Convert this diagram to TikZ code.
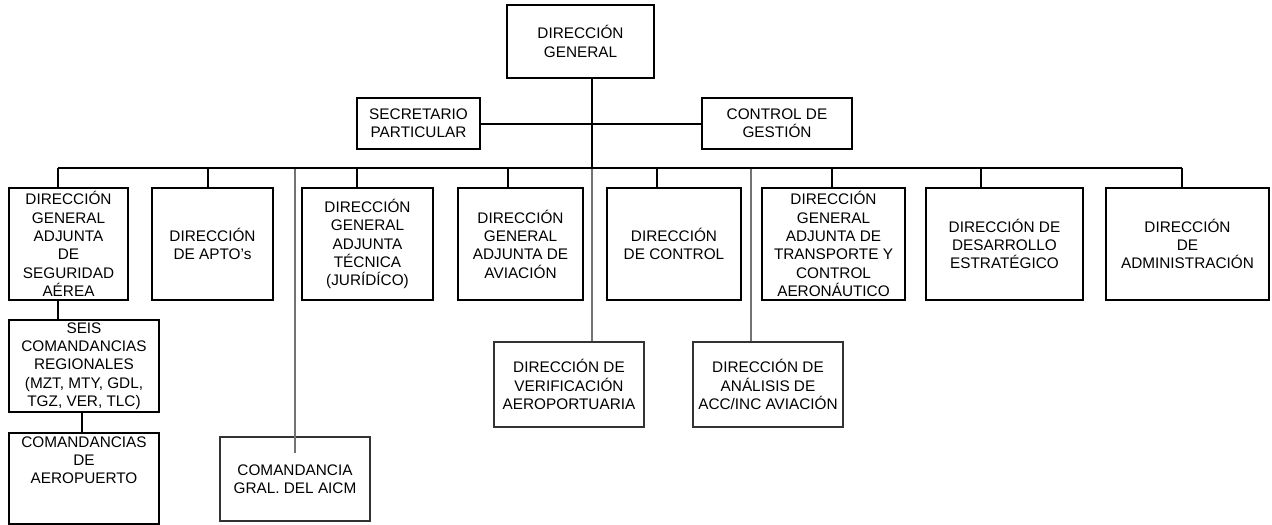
\documentclass[tikz,border=0pt]{standalone}
\usepackage{fontspec}
\setmainfont{Liberation Sans}
\begin{document}
\begin{tikzpicture}[x=0.75pt,y=-0.75pt,
  font=\fontsize{11.5}{13.75}\selectfont,
  mainbox/.style={draw=black,line width=1.5pt,inner sep=0pt,align=center,fill=white},
  thinbox/.style={draw=black!80,line width=0.8pt,inner sep=0pt,align=center,fill=white},
  link/.style={draw=black,line width=1.5pt},
  glink/.style={draw=black!55,line width=0.8pt}]
\useasboundingbox[fill=white] (0,0) rectangle (1272,525);

% coordinates for the connector junctions
\coordinate (spine) at (592,168);
\coordinate (d1) at (58,168);
\coordinate (d2) at (208,168);
\coordinate (d3) at (357,168);
\coordinate (d4) at (508,168);
\coordinate (d5) at (657,168);
\coordinate (d6) at (832,168);
\coordinate (d7) at (981,168);
\coordinate (d8) at (1182,168);
\coordinate (g1) at (295,168);
\coordinate (g2) at (592,168);
\coordinate (g3) at (751,168);
\coordinate (g1end) at (295,453);
\coordinate (sd1) at (58,300);
\coordinate (sd2) at (82,412);

% gray connectors (drawn first)
\draw[glink] (g1) -- (g1end);

% top level
\node[mainbox,minimum width=110.25pt,minimum height=54.75pt] (DG) at (580.5,41.5) {DIRECCIÓN\\GENERAL};
\node[mainbox,minimum width=92.25pt,minimum height=38.25pt] (SEC) at (418.5,123.5) {SECRETARIO\\PARTICULAR};
\node[mainbox,minimum width=112.5pt,minimum height=38.25pt] (CG) at (777,123.5) {CONTROL DE\\GESTIÓN};

% second level
\node[mainbox,minimum width=89.25pt,minimum height=84pt] (B1) at (68.5,244) {DIRECCIÓN\\GENERAL\\ADJUNTA\\DE\\SEGURIDAD\\AÉREA};
\node[mainbox,minimum width=90.75pt,minimum height=84pt] (B2) at (212.5,244) {DIRECCIÓN\\DE APTO’s};
\node[mainbox,minimum width=98.25pt,minimum height=84pt] (B3) at (367.5,244) {DIRECCIÓN\\GENERAL\\ADJUNTA\\TÉCNICA\\(JURÍDÍCO)};
\node[mainbox,minimum width=93.75pt,minimum height=84pt] (B4) at (520.5,244) {DIRECCIÓN\\GENERAL\\ADJUNTA DE\\AVIACIÓN};
\node[mainbox,minimum width=100.5pt,minimum height=84pt] (B5) at (674,244) {DIRECCIÓN\\DE CONTROL};
\node[mainbox,minimum width=107.25pt,minimum height=84pt] (B6) at (833.5,244) {DIRECCIÓN\\GENERAL\\ADJUNTA DE\\TRANSPORTE Y\\CONTROL\\AERONÁUTICO};
\node[mainbox,minimum width=117.75pt,minimum height=84pt] (B7) at (1004.5,244) {DIRECCIÓN DE\\DESARROLLO\\ESTRATÉGICO};
\node[mainbox,minimum width=122.25pt,minimum height=84pt] (B8) at (1187.5,244) {DIRECCIÓN\\DE\\ADMINISTRACIÓN};

% lower levels
\node[mainbox,minimum width=112.5pt,minimum height=69pt] (SEIS) at (84,366) {SEIS\\COMANDANCIAS\\REGIONALES\\(MZT, MTY, GDL,\\TGZ, VER, TLC)};
\node[mainbox,minimum width=112.5pt,minimum height=68.25pt] (CA) at (84,478.5) {\parbox[c][63pt][t]{110pt}{\centering COMANDANCIAS\\DE\\AEROPUERTO}};
\node[thinbox,minimum width=112.5pt,minimum height=63.75pt] (VER) at (569,384.5) {DIRECCIÓN DE\\VERIFICACIÓN\\AEROPORTUARIA};
\node[thinbox,minimum width=112.5pt,minimum height=63.75pt] (ANA) at (768,384.5) {DIRECCIÓN DE\\ANÁLISIS DE\\ACC/INC AVIACIÓN};
\node[thinbox,minimum width=112.5pt,minimum height=63pt] (CGA) at (295,479) {COMANDANCIA\\GRAL. DEL AICM};

% gray line entering the AICM box
\draw[glink] (CGA.north) -- (g1end);

% gray connectors
\draw[glink] (g2) -- (g2 |- VER.north);
\draw[glink] (g3) -- (g3 |- ANA.north);

% black connectors
\draw[link] (spine |- DG.south) -- (spine);
\draw[link] (SEC.east) -- (CG.west);
\draw[link] (d1) -- (d8);
\draw[link] (d1) -- (d1 |- B1.north);
\draw[link] (d2) -- (d2 |- B2.north);
\draw[link] (d3) -- (d3 |- B3.north);
\draw[link] (d4) -- (d4 |- B4.north);
\draw[link] (d5) -- (d5 |- B5.north);
\draw[link] (d6) -- (d6 |- B6.north);
\draw[link] (d7) -- (d7 |- B7.north);
\draw[link] (d8) -- (d8 |- B8.north);
\draw[link] (sd1 |- B1.south) -- (sd1 |- SEIS.north);
\draw[link] (sd2 |- SEIS.south) -- (sd2 |- CA.north);
\end{tikzpicture}
\end{document}
